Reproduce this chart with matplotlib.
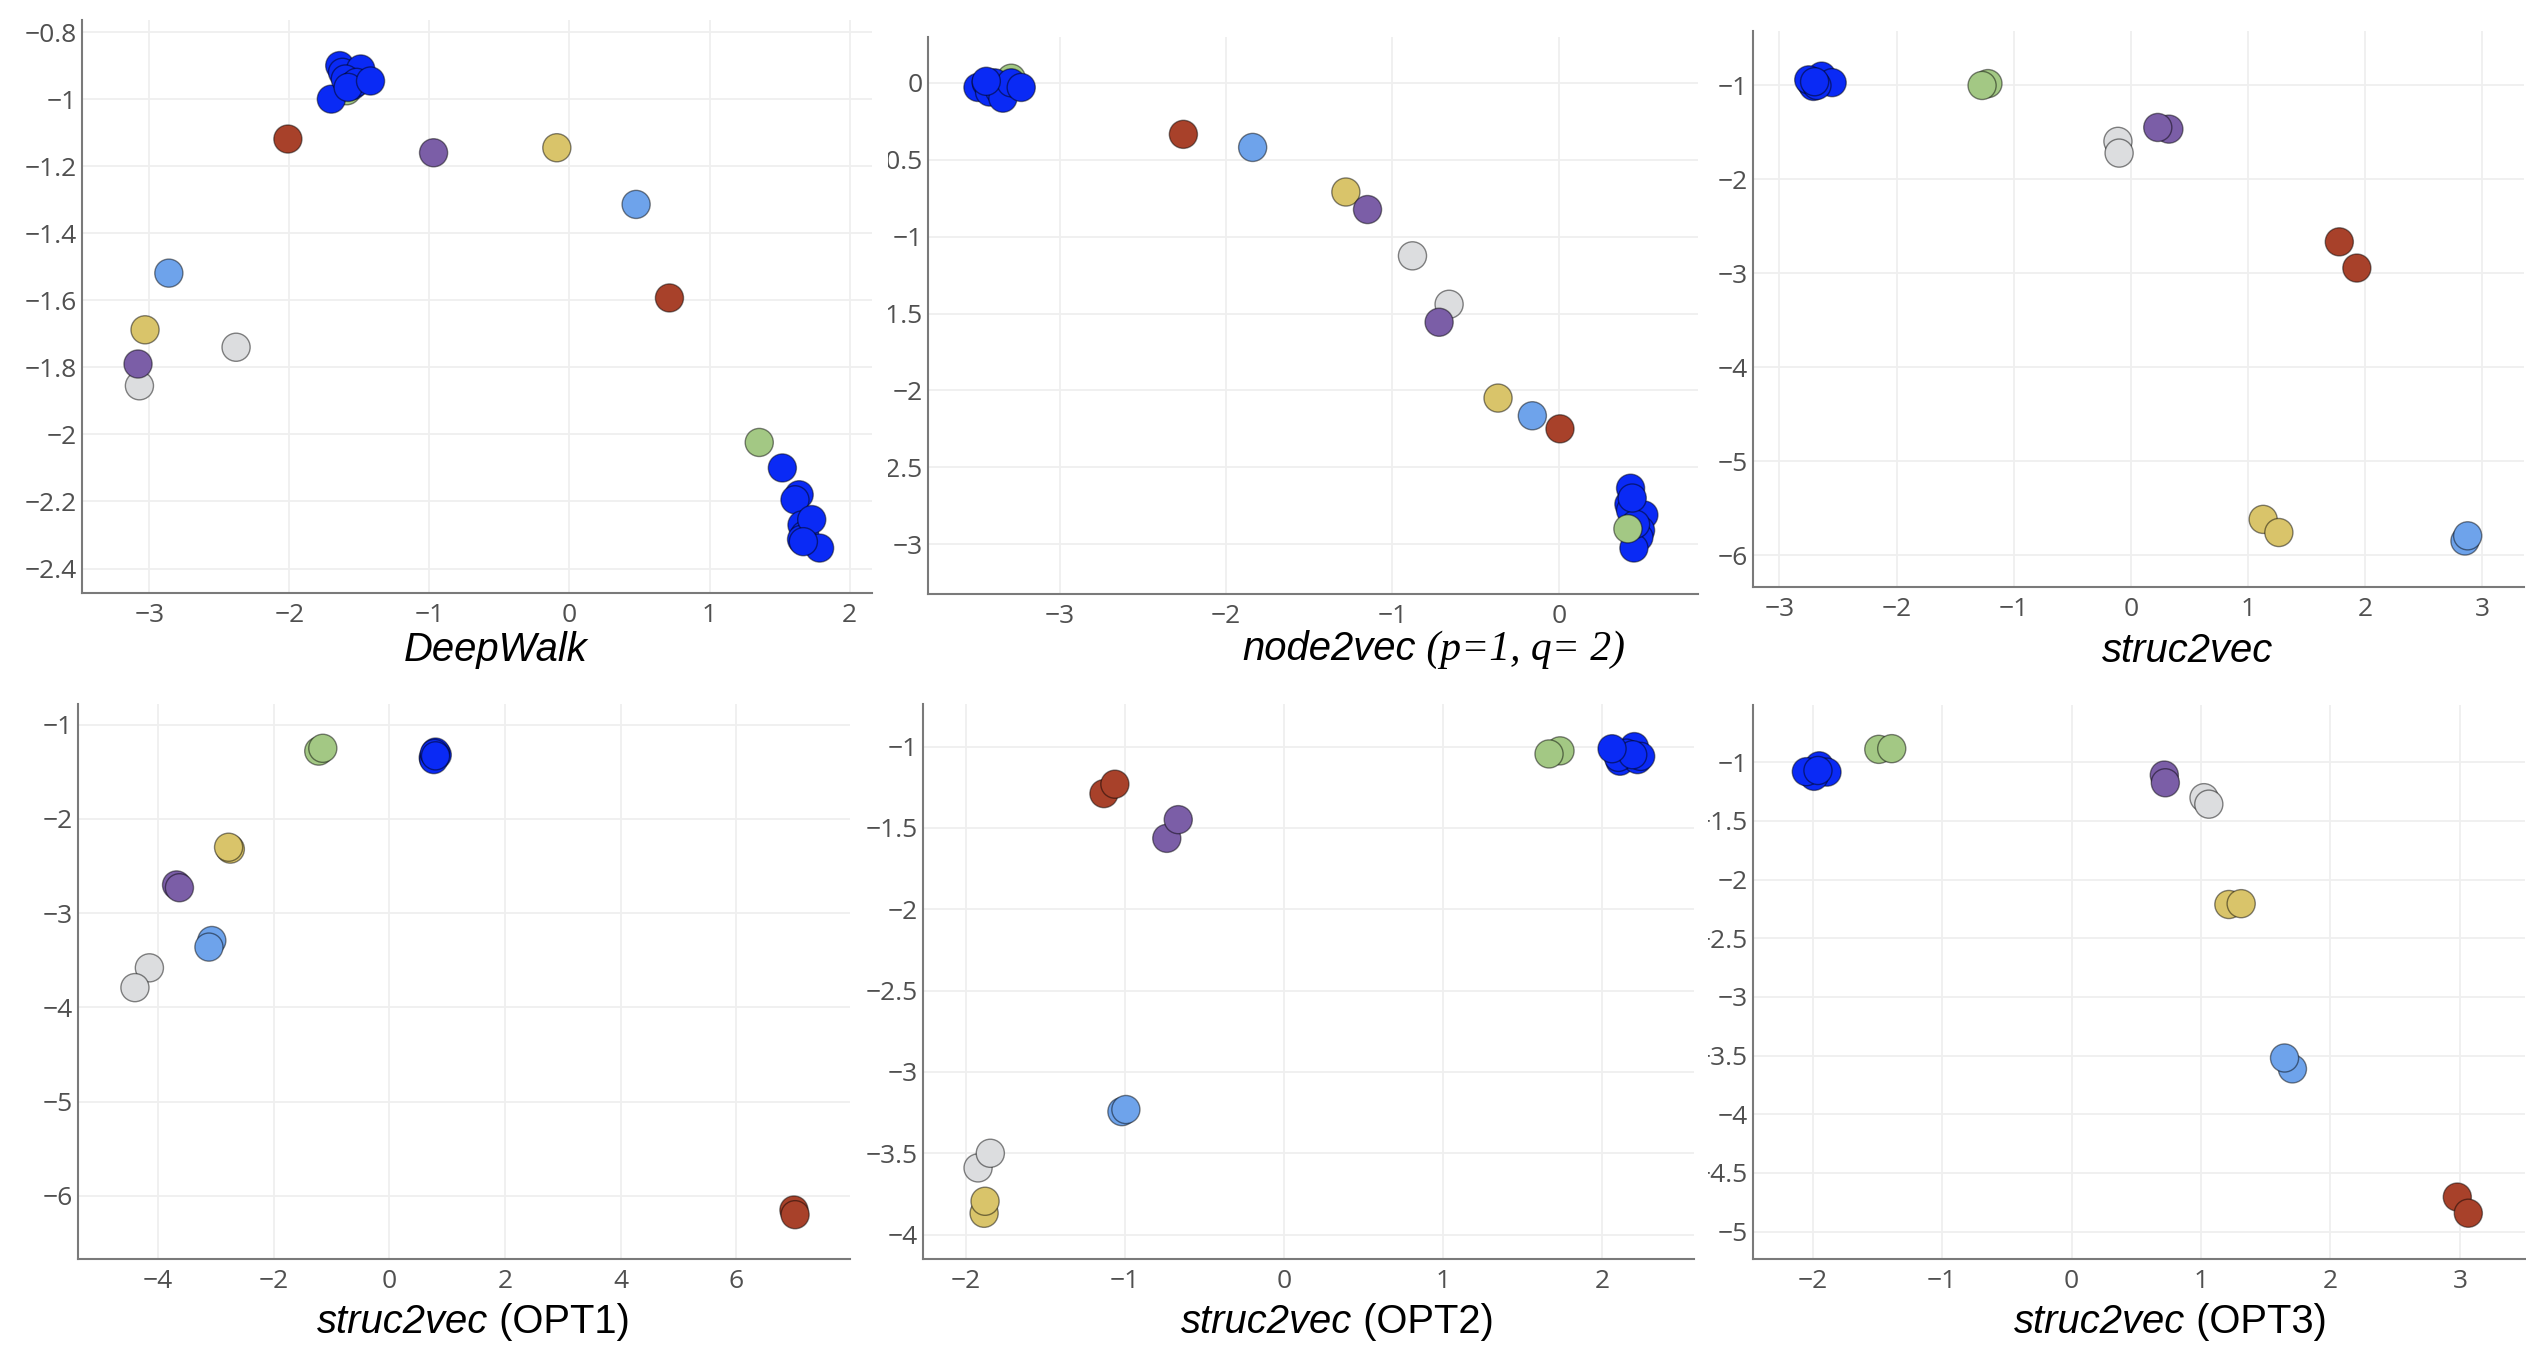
import matplotlib
matplotlib.use("Agg")
import matplotlib.pyplot as plt
from matplotlib.ticker import FixedLocator, FuncFormatter
from matplotlib.transforms import Bbox, TransformedBbox

# ---------------- data ----------------
COLORS = {"B": "#0A2AF5", "G": "#A3C884", "R": "#A8412A", "L": "#6EA3EB",
          "Y": "#D9C46A", "W": "#DCDDDF", "P": "#7B5EA7"}

# DeepWalk
dw_x = [-1.59, -1.70, -1.64, -1.62, -1.49, -1.60, -1.55, -1.52, -1.58, -1.42,
        -2.01, -0.97, -0.09, 0.476, 0.714, -2.86, -3.03, -2.38, -3.07, -3.08,
        1.355, 1.52, 1.64, 1.61, 1.66, 1.68, 1.657, 1.786, 1.73, 1.67]
dw_y = [-0.975, -1.00, -0.90, -0.92, -0.91, -0.94, -0.96, -0.95, -0.965, -0.946,
        -1.119, -1.16, -1.145, -1.314, -1.593, -1.519, -1.688, -1.74, -1.855, -1.79,
        -2.024, -2.10, -2.18, -2.195, -2.27, -2.30, -2.313, -2.339, -2.254, -2.32]
dw_c = ["G", "B", "B", "B", "B", "B", "B", "B", "B", "B",
        "R", "P", "Y", "L", "R", "L", "Y", "W", "W", "P",
        "G", "B", "B", "B", "B", "B", "B", "B", "B", "B"]

# node2vec (p=1, q=2)
n2v_x = [-3.29, -3.49, -3.44, -3.39, -3.42, -3.36, -3.34, -3.29, -3.23, -3.44,
         -2.256, -1.84, -1.28, -1.15, -0.88, -0.66, -0.72, -0.366, -0.16, 0.006,
         0.43, 0.42, 0.43, 0.51, 0.49, 0.48, 0.45, 0.46, 0.44, 0.414]
n2v_y = [0.03, -0.03, 0.0, 0.0, -0.06, -0.05, -0.10, 0.0, -0.03, 0.01,
         -0.335, -0.42, -0.71, -0.824, -1.125, -1.44, -1.557, -2.05, -2.165, -2.25,
         -2.636, -2.74, -2.78, -2.81, -2.91, -2.955, -3.025, -2.87, -2.70, -2.90]
n2v_c = ["G", "B", "B", "B", "B", "B", "B", "B", "B", "B",
         "R", "L", "Y", "P", "W", "W", "P", "Y", "L", "R",
         "B", "B", "B", "B", "B", "B", "B", "B", "B", "G"]

# struc2vec
s2v_x = [-2.73, -2.64, -2.55, -2.71, -2.75, -2.68, -2.70,
         -1.22, -1.27, -0.11, -0.10, 0.325, 0.23, 1.78, 1.93, 1.13, 1.264, 2.853, 2.876]
s2v_y = [-0.97, -0.90, -0.97, -1.01, -0.94, -1.00, -0.96,
         -0.98, -1.00, -1.595, -1.72, -1.465, -1.447, -2.665, -2.944, -5.62, -5.76, -5.85, -5.795]
s2v_c = ["B", "B", "B", "B", "B", "B", "B",
         "G", "G", "W", "W", "P", "P", "R", "R", "Y", "Y", "L", "L"]

# struc2vec (OPT1)
o1_x = [-1.22, -1.15, 0.76, 0.83, 0.80, 0.77, 0.78, 0.80,
        -2.75, -2.78, -3.68, -3.63, -3.07, -3.12, -4.15, -4.40, 7.0, 7.02]
o1_y = [-1.28, -1.25, -1.35, -1.32, -1.29, -1.37, -1.305, -1.33,
        -2.32, -2.30, -2.70, -2.73, -3.29, -3.36, -3.58, -3.79, -6.15, -6.20]
o1_c = ["G", "G", "B", "B", "B", "B", "B", "B",
        "Y", "Y", "P", "P", "L", "L", "W", "W", "R", "R"]

# struc2vec (OPT2)
o2_x = [1.733, 1.664, 2.20, 2.11, 2.22, 2.24, 2.15, 2.10, 2.19, 2.06,
        -1.133, -1.064, -0.738, -0.666, -1.02, -0.995, -1.924, -1.847, -1.886, -1.88]
o2_y = [-1.026, -1.045, -1.00, -1.09, -1.08, -1.06, -1.04, -1.066, -1.05, -1.013,
        -1.289, -1.231, -1.564, -1.449, -3.244, -3.231, -3.59, -3.50, -3.869, -3.795]
o2_c = ["G", "G", "B", "B", "B", "B", "B", "B", "B", "B",
        "R", "R", "P", "P", "L", "L", "W", "W", "Y", "Y"]

# struc2vec (OPT3)
o3_x = [-2.01, -1.93, -1.95, -1.89, -1.99, -2.05, -1.96,
        -1.49, -1.39, 0.716, 0.724, 1.023, 1.06, 1.215, 1.31, 1.706, 1.645, 2.98, 3.065]
o3_y = [-1.095, -1.066, -1.03, -1.084, -1.12, -1.08, -1.07,
        -0.89, -0.884, -1.109, -1.175, -1.302, -1.357, -2.212, -2.205, -3.613, -3.52, -4.705, -4.843]
o3_c = ["B", "B", "B", "B", "B", "B", "B",
        "G", "G", "P", "P", "W", "W", "Y", "Y", "L", "L", "R", "R"]

# ticks
dw_xticks = [-3, -2, -1, 0, 1, 2]
dw_yticks = [-0.8, -1.0, -1.2, -1.4, -1.6, -1.8, -2.0, -2.2, -2.4]
n2v_xticks = [-3, -2, -1, 0]
n2v_yticks = [0, -0.5, -1, -1.5, -2, -2.5, -3]
s2v_xticks = [-3, -2, -1, 0, 1, 2, 3]
s2v_yticks = [-1, -2, -3, -4, -5, -6]
o1_xticks = [-4, -2, 0, 2, 4, 6]
o1_yticks = [-1, -2, -3, -4, -5, -6]
o2_xticks = [-2, -1, 0, 1, 2]
o2_yticks = [-1, -1.5, -2, -2.5, -3, -3.5, -4]
o3_xticks = [-2, -1, 0, 1, 2, 3]
o3_yticks = [-1, -1.5, -2, -2.5, -3, -3.5, -4, -4.5, -5]

# ---------------- figure ----------------
W, H = 2526, 1346
fig = plt.figure(figsize=(W / 100, H / 100), dpi=100)
fig.patch.set_facecolor("white")

TICK_FONT = "Open Sans"
TICK_COLOR = "#505050"
TICK_SIZE = 19


def fmt(v, pos=None):
    s = f"{v:g}"
    return s.replace("-", "\u2212")


def make_panel(rect_px, x, y, c, xticks, yticks, xlim, ylim, clip_left=None):
    l, r, t, b = rect_px
    ax = fig.add_axes([l / W, 1 - b / H, (r - l) / W, (b - t) / H])
    ax.set_xlim(*xlim)
    ax.set_ylim(*ylim)
    ax.xaxis.set_major_locator(FixedLocator(xticks))
    ax.yaxis.set_major_locator(FixedLocator(yticks))
    ax.xaxis.set_major_formatter(FuncFormatter(fmt))
    ax.yaxis.set_major_formatter(FuncFormatter(fmt))
    ax.grid(True, color="#EFEFEF", linewidth=1.3, zorder=0)
    ax.set_axisbelow(True)
    for s in ("top", "right"):
        ax.spines[s].set_visible(False)
    for s in ("left", "bottom"):
        ax.spines[s].set_color("#7a7a7a")
        ax.spines[s].set_linewidth(1.5)
    ax.tick_params(axis="both", length=0, labelsize=TICK_SIZE, labelcolor=TICK_COLOR)
    ax.tick_params(axis="x", pad=7)
    ax.tick_params(axis="y", pad=4)
    for lab in ax.get_xticklabels() + ax.get_yticklabels():
        lab.set_fontfamily(TICK_FONT)
    cols = [COLORS[k] for k in c]
    ax.scatter(x, y, s=410, c=cols, edgecolors="#00000078", linewidths=1.0,
               zorder=3, clip_on=False)
    if clip_left is not None:
        bb = TransformedBbox(Bbox.from_extents(clip_left / W, 0, 1, 1), fig.transFigure)
        for lab in ax.get_yticklabels():
            lab.set_clip_on(True)
            lab.set_clip_box(bb)
    return ax


make_panel((82, 872, 20, 593), dw_x, dw_y, dw_c, dw_xticks, dw_yticks,
           (-3.48, 2.16), (-2.473, -0.764))
make_panel((928, 1698, 37, 594), n2v_x, n2v_y, n2v_c, n2v_xticks, n2v_yticks,
           (-3.79, 0.835), (-3.324, 0.298), clip_left=888)
make_panel((1753, 2524, 31, 587), s2v_x, s2v_y, s2v_c, s2v_xticks, s2v_yticks,
           (-3.226, 3.357), (-6.34, -0.42))
make_panel((78, 850, 704, 1259), o1_x, o1_y, o1_c, o1_xticks, o1_yticks,
           (-5.385, 7.97), (-6.67, -0.78))
make_panel((923, 1694, 704, 1259), o2_x, o2_y, o2_c, o2_xticks, o2_yticks,
           (-2.27, 2.575), (-4.15, -0.738))
make_panel((1753, 2525, 705, 1259), o3_x, o3_y, o3_c, o3_xticks, o3_yticks,
           (-2.462, 3.503), (-5.233, -0.512), clip_left=1708)

# ---------------- panel captions ----------------
SANS = "Liberation Sans"
SERIF = "Liberation Serif"
CAP = 28.8


def caption(split_px, base_px, left_txt, right_txt=None, right_family=SANS,
            right_style="normal", right_size=CAP):
    fx, fy = split_px / W, 1 - base_px / H
    if right_txt is None:
        fig.text(fx, fy, left_txt, ha="center", va="baseline", fontsize=CAP,
                 fontstyle="italic", fontfamily=SANS, color="black")
        return
    fig.text(fx, fy, left_txt, ha="right", va="baseline", fontsize=CAP,
             fontstyle="italic", fontfamily=SANS, color="black")
    fig.text(fx, fy, right_txt, ha="left", va="baseline", fontsize=right_size,
             fontstyle=right_style, fontfamily=right_family, color="black")


caption(496, 661, "DeepWalk")
caption(1416, 660, "node2vec", " (p=1, q= 2)", right_family=SERIF,
        right_style="italic", right_size=30)
caption(2188, 662, "struc2vec")
caption(488, 1333, "struc2vec", " (OPT1)")
caption(1352, 1333, "struc2vec", " (OPT2)")
caption(2185, 1333, "struc2vec", " (OPT3)")

fig.savefig("out.png", dpi=100, facecolor="white")
